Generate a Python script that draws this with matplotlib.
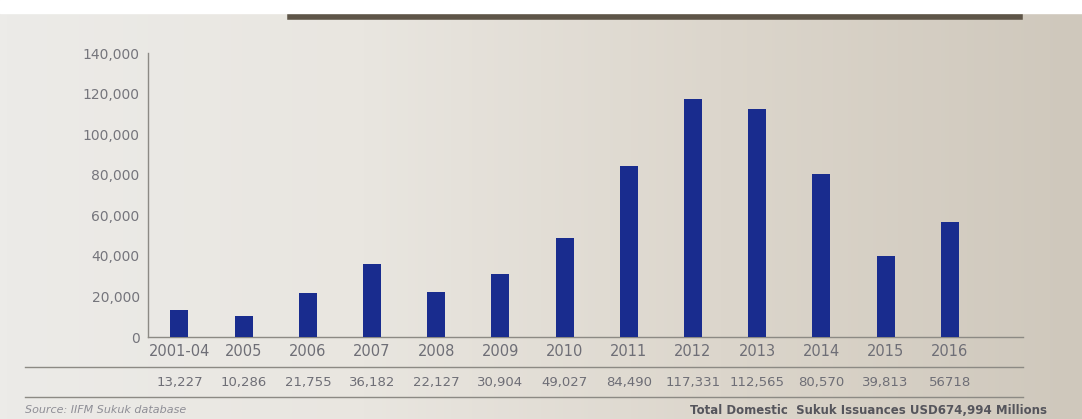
import numpy as np
import matplotlib.pyplot as plt
from matplotlib.lines import Line2D

# sukuk issuance, USD millions
years = ["2001-04", "2005", "2006", "2007", "2008", "2009", "2010",
         "2011", "2012", "2013", "2014", "2015", "2016"]
values = [13227, 10286, 21755, 36182, 22127, 30904, 49027,
          84490, 117331, 112565, 80570, 39813, 56718]
value_labels = ["13,227", "10,286", "21,755", "36,182", "22,127", "30,904",
                "49,027", "84,490", "117,331", "112,565", "80,570", "39,813", "56718"]
yticks = [0, 20000, 40000, 60000, 80000, 100000, 120000, 140000]

W, H = 1082, 419
fig = plt.figure(figsize=(W / 100, H / 100), dpi=100)

# photo-like paper background (light left, darker right)
bg = fig.add_axes([0, 0, 1, 1], zorder=-10)
gx = np.linspace(0, 1, 300)
grad = np.outer(np.ones(50), gx)
bg.imshow(grad, aspect='auto', cmap=plt.matplotlib.colors.LinearSegmentedColormap.from_list(
    'paper', ['#ecebe8', '#e9e6e0', '#dcd6cc', '#cfc8bc']), extent=[0, 1, 0, 1])
bg.add_patch(plt.Rectangle((0, 1 - 13 / H), 1, 13 / H, color='white', zorder=2))
bg.plot([290 / W, 1020 / W], [1 - 17 / H, 1 - 17 / H], color='#5e5548', lw=4, zorder=3)
bg.set_xlim(0, 1)
bg.set_ylim(0, 1)
bg.axis('off')

x0, x1 = 148, 1023
y0, ytop = 337, 53
ax = fig.add_axes([x0 / W, (H - y0) / H, (x1 - x0) / W, (y0 - ytop) / H])
ax.patch.set_alpha(0)

pos = np.arange(len(years))
ax.bar(pos, values, width=0.28, color='#192c8e', zorder=3)

ax.set_xlim(-0.49, 13.14)
ax.set_ylim(0, 140000)
ax.set_yticks(yticks)
ax.set_yticklabels([f"{v:,}" for v in yticks], color='#75757c', fontsize=10)
ax.set_xticks(pos)
ax.set_xticklabels(years, color='#6e6e76', fontsize=10.5)
ax.tick_params(axis='both', length=0)
ax.tick_params(axis='y', pad=6)
ax.tick_params(axis='x', pad=5)
for s in ['top', 'right']:
    ax.spines[s].set_visible(False)
ax.spines['left'].set_color('#8c8a84')
ax.spines['bottom'].set_color('#8c8a84')
ax.spines['left'].set_linewidth(1.0)
ax.spines['bottom'].set_linewidth(1.0)

# value row beneath the year labels
for p, lab in zip(pos, value_labels):
    ax.text(p, -22400, lab, ha='center', va='center', fontsize=9.5,
            color='#6e6e76', clip_on=False)

for yy in (367, 397):
    fig.add_artist(Line2D([25 / W, x1 / W], [1 - yy / H, 1 - yy / H],
                          color='#8c8a84', lw=1.0))

fig.text(25 / W, 1 - 410 / H, "Source: IIFM Sukuk database", fontsize=8,
         style='italic', color='#8e8e96', va='center')
fig.text(690 / W, 1 - 410 / H, "Total Domestic  Sukuk Issuances USD674,994 Millions",
         fontsize=8.5, weight='bold', color='#55555c', va='center', ha='left')

fig.savefig('out.png', dpi=100)
